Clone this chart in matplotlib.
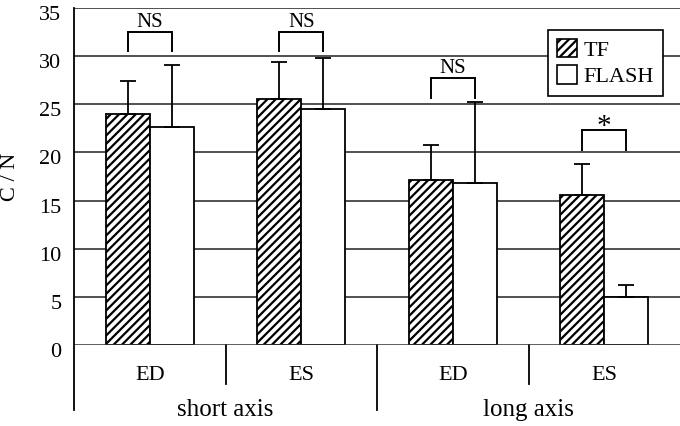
import matplotlib
matplotlib.use("Agg")
import matplotlib.pyplot as plt
import matplotlib.transforms as mtransforms
from matplotlib.patches import Patch
import numpy as np

# ---- data ----
groups = ["short axis", "long axis"]
phases = ["ED", "ES", "ED", "ES"]
tf_mean = [24.0, 25.5, 17.1, 15.6]
tf_err = [3.4, 3.9, 3.7, 3.2]
flash_mean = [22.6, 24.5, 16.8, 5.0]
flash_err = [6.5, 5.3, 8.4, 1.2]
sig_labels = ["NS", "NS", "NS", "*"]
bracket_top = [32.5, 32.5, 27.7, 22.3]
yticks = [0, 5, 10, 15, 20, 25, 30, 35]

plt.rcParams['font.family'] = ['Liberation Serif', 'DejaVu Serif']
plt.rcParams['hatch.linewidth'] = 1.6
plt.rcParams['hatch.color'] = 'black'

fig = plt.figure(figsize=(6.8, 4.26), dpi=100)
ax = fig.add_axes([74/680, 81/426, 606/680, 337/426])

x = np.arange(len(phases)) + 0.5
w = 0.29

# gridlines
for yt in yticks[1:]:
    ax.axhline(yt, color='#222222', lw=1.1, zorder=0)
ax.axhline(0, color='#333333', lw=1.1, zorder=3)

ax.bar(x - w/2, tf_mean, width=w, facecolor='white', edgecolor='black',
       hatch='////', lw=1.3, zorder=2)
ax.bar(x + w/2, flash_mean, width=w, facecolor='white', edgecolor='black',
       lw=1.3, zorder=2)

# upward error bars
ax.errorbar(x - w/2, tf_mean, yerr=[np.zeros(4), tf_err], fmt='none',
            ecolor='black', elinewidth=1.3, capsize=6, capthick=1.3, zorder=3)
ax.errorbar(x + w/2, flash_mean, yerr=[np.zeros(4), flash_err], fmt='none',
            ecolor='black', elinewidth=1.3, capsize=6, capthick=1.3, zorder=3)

# significance brackets
for xi, top, lab in zip(x, bracket_top, sig_labels):
    x0, x1 = xi - w/2, xi + w/2
    ax.plot([x0, x0, x1, x1], [top - 2.0, top, top, top - 2.0],
            color='black', lw=1.4, zorder=4, solid_joinstyle='miter')
    if lab == "*":
        ax.text(xi, top - 1.0, lab, ha='center', va='bottom', fontsize=21)
    else:
        ax.text(xi, top + 1.0, lab, ha='center', va='center', fontsize=15)

ax.set_xlim(0, 4)
ax.set_ylim(0, 35)
ax.set_yticks(yticks)
ax.set_yticklabels([str(v) for v in yticks], fontsize=16)
ax.tick_params(axis='y', length=0, pad=9)
offset = mtransforms.ScaledTranslation(0, -5/100, fig.dpi_scale_trans)
for lbl in ax.get_yticklabels():
    lbl.set_transform(lbl.get_transform() + offset)
ax.set_xticks([])
for s in ['top', 'right', 'bottom', 'left']:
    ax.spines[s].set_visible(False)

# left spine extending below
ax.plot([0, 0], [35, -6.8], color='black', lw=1.3, clip_on=False, zorder=5)
# separators below the axis
for xs in [1, 3]:
    ax.plot([xs, xs], [0, -4.0], color='black', lw=1.3, clip_on=False)
ax.plot([2, 2], [0, -6.8], color='black', lw=1.3, clip_on=False)

for xi, ph in zip(x, phases):
    ax.text(xi, -3.2, ph, ha='center', va='center', fontsize=16)
for gi, g in enumerate(groups):
    ax.text(1 + 2*gi, -6.7, g, ha='center', va='center', fontsize=18)

ax.set_ylabel("C / N", fontsize=16)
ax.yaxis.set_label_coords(-0.089, 0.5)

handles = [Patch(facecolor='white', edgecolor='black', hatch='////', lw=1.2),
           Patch(facecolor='white', edgecolor='black', lw=1.2)]
leg = ax.legend(handles, ["TF", "FLASH"], loc='upper right',
                bbox_to_anchor=(0.972, 0.935), borderaxespad=0, fontsize=16,
                fancybox=False, framealpha=1, edgecolor='black',
                handlelength=0.9, handleheight=0.9, handletextpad=0.3,
                borderpad=0.4, labelspacing=0.2)
leg.get_frame().set_linewidth(1.2)
leg.set_zorder(6)

fig.savefig("out.png", dpi=100)
